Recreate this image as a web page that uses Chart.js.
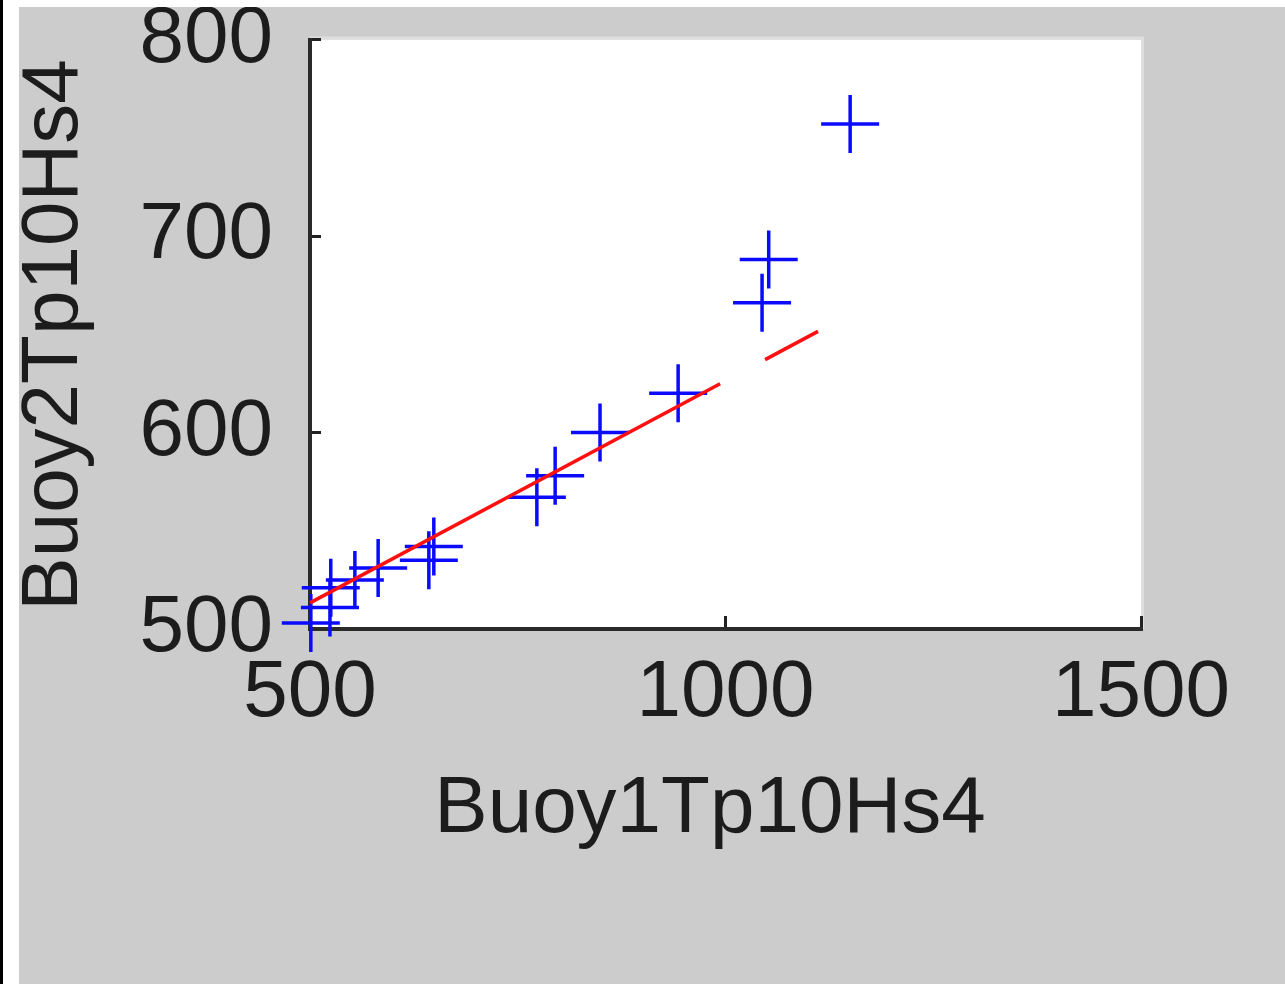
<!DOCTYPE html>
<html>
<head>
<meta charset="utf-8">
<script src="https://cdn.jsdelivr.net/npm/chart.js@4/dist/chart.umd.min.js"></script>
<style>
  html, body { margin: 0; padding: 0; background: #fff; width: 1285px; height: 984px; overflow: hidden; }
  #edge { position: absolute; left: 0; top: 0; width: 3px; height: 984px; background: #000; }
  #panel { position: absolute; left: 19px; top: 7px; width: 1266px; height: 977px; background: #cccccc; }
  canvas { display: block; }
</style>
</head>
<body>
<div id="edge"></div>
<div id="panel"><canvas id="c" width="1266" height="977"></canvas></div>
<script>
// Paired observations: buoy 1 vs buoy 2 (Tp10, Hs4)
const buoy1 = [1150, 1052, 1044, 943, 849, 795, 773, 649, 643, 582, 554, 525, 524, 501];
const buoy2 = [757, 688, 666, 620, 600, 578, 567, 542, 535, 531, 525, 521, 511, 503];

// Least-squares fit drawn as a dashed red line
const fitSlope = 0.226;
const fitIntercept = 400.3;
const fitRange = [500, 1150];

// Axis limits and tick values
const xLimits = [500, 1500];
const yLimits = [500, 800];
const xTicks = [500, 1000, 1500];
const yTicks = [500, 600, 700, 800];

const xTitle = 'Buoy1Tp10Hs4';
const yTitle = 'Buoy2Tp10Hs4';

const FONT = '"Liberation Sans", Arial, Helvetica, sans-serif';
const INK = '#1c1c1c';

const points = buoy1.map((x, i) => ({ x, y: buoy2[i] }));
const fitLine = fitRange.map(x => ({ x, y: fitSlope * x + fitIntercept }));

// White axes box plus the two axis titles
const frame = {
  id: 'frame',
  beforeDraw(chart) {
    const { ctx, chartArea: a } = chart;
    ctx.save();
    ctx.fillStyle = '#ffffff';
    ctx.fillRect(a.left, a.top, a.right - a.left, a.bottom - a.top);
    ctx.strokeStyle = '#dedede';
    ctx.lineWidth = 3;
    ctx.beginPath();
    ctx.moveTo(a.left, a.top - 1.5);
    ctx.lineTo(a.right + 1.5, a.top - 1.5);
    ctx.lineTo(a.right + 1.5, a.bottom);
    ctx.stroke();
    ctx.restore();
  },
  afterDraw(chart) {
    const { ctx } = chart;
    ctx.save();
    ctx.fillStyle = INK;
    ctx.font = '80px ' + FONT;
    ctx.textAlign = 'center';
    ctx.textBaseline = 'alphabetic';
    ctx.fillText(xTitle, 691, 825);
    ctx.translate(58, 328);
    ctx.rotate(-Math.PI / 2);
    ctx.fillText(yTitle, 0, 0);
    ctx.restore();
  }
};

const tickFont = { family: FONT, size: 80 };

// Keep the plot box fixed: no extra room reserved for half-label overhangs
function noOverhang(s) {
  s.paddingTop = 0;
  s.paddingBottom = 0;
  s.paddingLeft = 0;
  s.paddingRight = 0;
}

new Chart(document.getElementById('c'), {
  type: 'scatter',
  data: {
    datasets: [
      {
        label: 'data',
        data: points,
        showLine: false,
        pointStyle: 'cross',
        pointRadius: 29,
        pointHoverRadius: 29,
        pointBorderWidth: 3.5,
        pointBorderColor: '#0a0aff',
        pointBackgroundColor: '#0a0aff',
        clip: false,
        order: 2
      },
      {
        label: 'fit',
        data: fitLine,
        showLine: true,
        pointRadius: 0,
        borderColor: '#ff1010',
        borderWidth: 3.5,
        borderDash: [465, 51, 60, 51],
        fill: false,
        clip: false,
        order: 1
      }
    ]
  },
  options: {
    responsive: false,
    animation: false,
    devicePixelRatio: 1,
    layout: { padding: { left: 0, top: 30, right: 144, bottom: 235 } },
    plugins: { legend: { display: false }, tooltip: { enabled: false } },
    events: [],
    scales: {
      x: {
        type: 'linear',
        position: 'bottom',
        min: xLimits[0],
        max: xLimits[1],
        afterBuildTicks: s => { s.ticks = xTicks.map(v => ({ value: v })); },
        afterFit: s => { s.height = 120; noOverhang(s); },
        ticks: { font: tickFont, color: INK, padding: 30, maxRotation: 0, autoSkip: false, callback: v => String(v) },
        grid: { display: true, drawOnChartArea: false, drawTicks: true, tickLength: -13, color: '#222', lineWidth: 3 },
        border: { display: true, color: '#2a2a2a', width: 4 }
      },
      y: {
        type: 'linear',
        position: 'left',
        min: yLimits[0],
        max: yLimits[1],
        afterBuildTicks: s => { s.ticks = yTicks.map(v => ({ value: v })); },
        afterFit: s => { s.width = 291; noOverhang(s); },
        ticks: { font: tickFont, color: INK, padding: 48, autoSkip: false, callback: v => String(v) },
        grid: { display: true, drawOnChartArea: false, drawTicks: true, tickLength: -11, color: '#222', lineWidth: 3 },
        border: { display: true, color: '#2a2a2a', width: 4 }
      }
    }
  },
  plugins: [frame]
});
</script>
</body>
</html>
